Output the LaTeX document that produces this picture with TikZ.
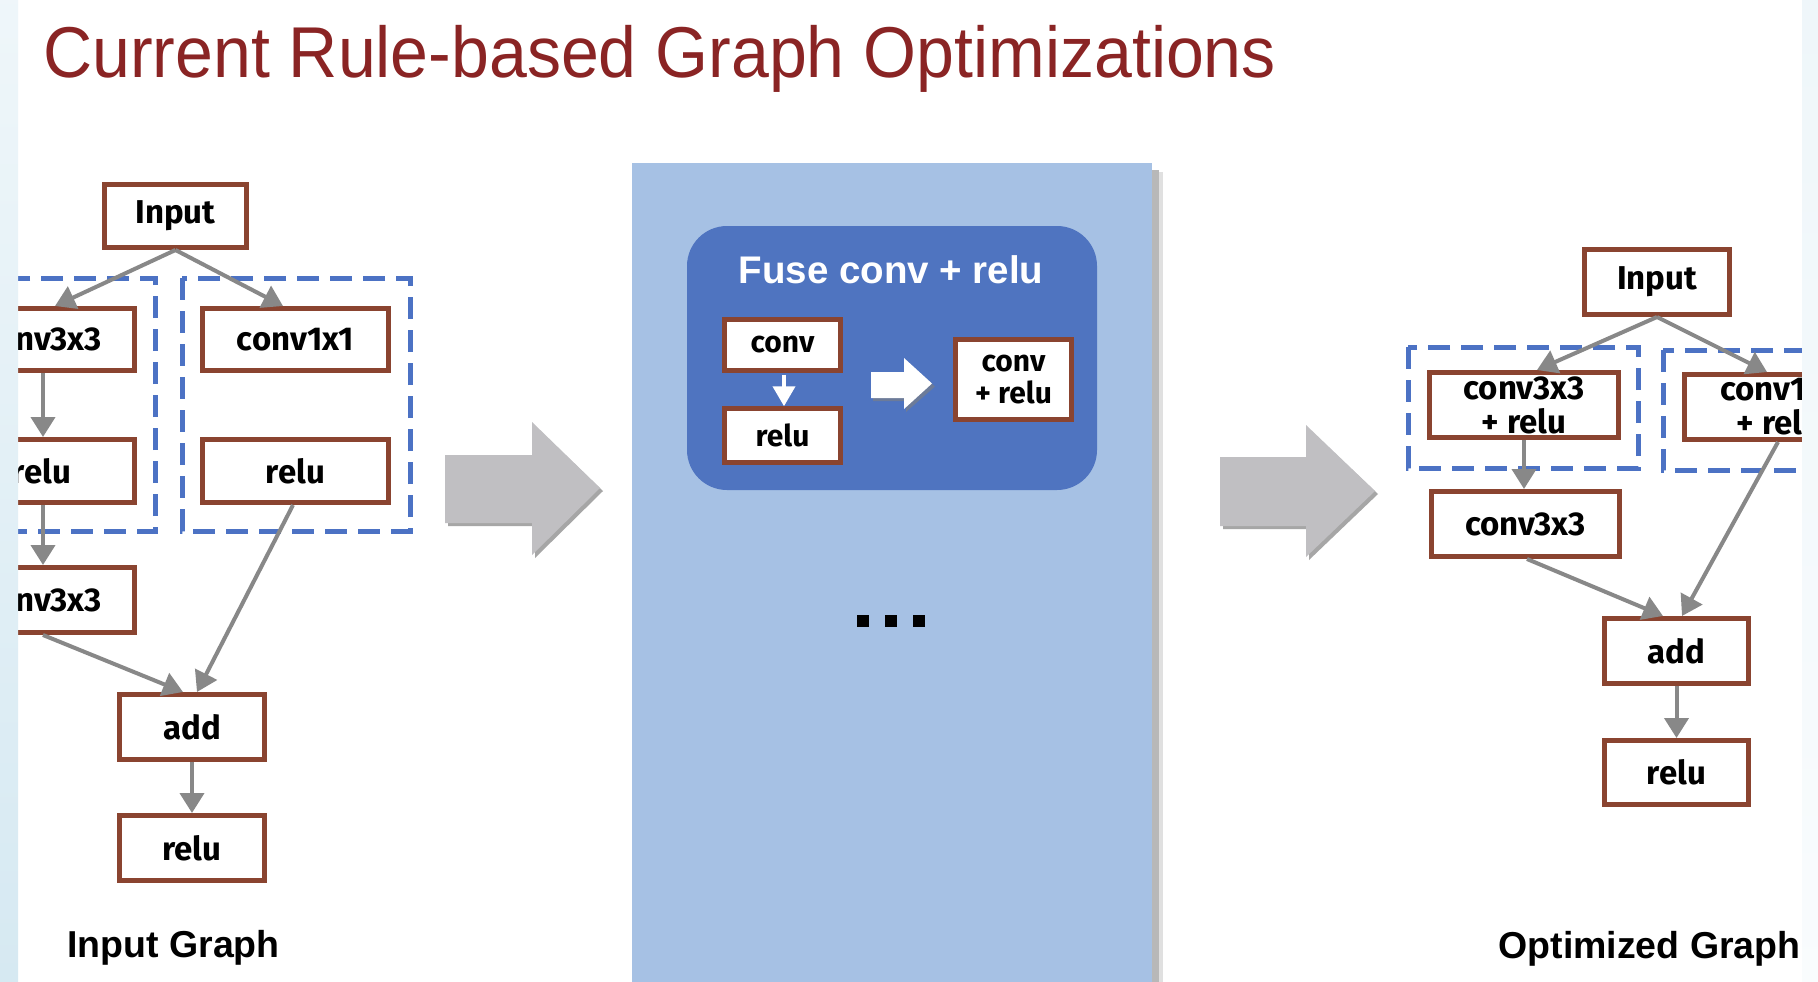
\documentclass[tikz,border=0pt]{standalone}
\usepackage{fontspec}
\setmainfont{Liberation Sans}
\newfontfamily\boxf{Fira Sans}
\usetikzlibrary{arrows.meta,calc}
\definecolor{brn}{RGB}{138,68,48}
\definecolor{dblue}{RGB}{76,114,196}
\definecolor{arrgray}{RGB}{136,136,136}
\definecolor{panelc}{RGB}{166,193,228}
\definecolor{rboxc}{RGB}{79,116,192}
\definecolor{bigarr}{RGB}{192,191,194}
\definecolor{titlec}{RGB}{138,36,36}
\definecolor{stripc}{RGB}{214,233,242}
\begin{document}
\begin{tikzpicture}[x=1pt,y=-1pt,
  gbox/.style={draw=brn, line width=5pt, fill=white, inner sep=0pt,
    font=\boxf\bfseries\fontsize{33}{34}\selectfont, align=center},
  sbox/.style={draw=brn, line width=4.5pt, fill=white, inner sep=0pt,
    font=\boxf\bfseries\fontsize{30}{32}\selectfont, align=center},
  arr/.style={draw=arrgray, line width=4pt, -{Triangle[width=24pt,length=20pt]}},
  dbox/.style={draw=dblue, line width=5pt, dash pattern=on 22pt off 11pt},
  lbl/.style={font=\bfseries\fontsize{37.5}{42}\selectfont, anchor=base, inner sep=0pt}]
\useasboundingbox (0,0) rectangle (1818,982);
\clip (0,0) rectangle (1818,982);
\fill[white] (0,0) rectangle (1818,982);

% title
\node[anchor=base west, inner sep=0pt, text=titlec, font=\fontsize{72}{80}\selectfont]
  (title) at (43,77.5) {\scalebox{0.945}[1]{Current Rule-based Graph Optimizations}};

% ---------- left graph ----------
\draw[dbox] (-72,278) rectangle (155,531);
\draw[dbox] (182,278) rectangle (410,531);
\node[gbox, minimum width=142pt, minimum height=63pt] (in1) at (175.5,216) {Input};
\node[gbox, minimum width=186pt, minimum height=62pt] (c3a) at (41.5,339.5) {conv3x3};
\node[gbox, minimum width=186pt, minimum height=63pt] (r1a) at (41.5,471) {relu};
\node[gbox, minimum width=186pt, minimum height=62pt] (c1) at (295.5,339.5) {conv1x1};
\node[gbox, minimum width=186pt, minimum height=63pt] (r1b) at (295.5,471) {relu};
\node[gbox, minimum width=186pt, minimum height=65pt] (c3b) at (41.5,600) {conv3x3};
\node[gbox, minimum width=145pt, minimum height=65pt] (add1) at (192,727) {add};
\node[gbox, minimum width=145pt, minimum height=65pt] (relu1) at (192,848) {relu};
\draw[arr] (in1.south) -- ($(c3a.north)+(13.5,0)$);
\draw[arr] (in1.south) -- ($(c1.north)+(-12.5,0)$);
\draw[arr] ($(c3a.south)+(1.5,0)$) -- ($(r1a.north)+(1.5,0)$);
\draw[arr] ($(r1a.south)+(1.5,0)$) -- ($(c3b.north)+(1.5,0)$);
\draw[arr] ($(c3b.south)+(1.5,0)$) -- ($(add1.north)+(-9,0)$);
\draw[arr] ($(r1b.south)+(-2.5,0)$) -- ($(add1.north)+(5,0)$);
\draw[arr] (add1.south) -- (relu1.north);
\node[lbl] (lg) at (173.5,957) {Input Graph};

% ---------- gray arrows ----------
\fill[black!35] (448,459) -- (535,459) -- (535,426) -- (603,491) -- (535,558) -- (535,526) -- (448,526) -- cycle;
\fill[bigarr] (445,455) -- (532,455) -- (532,422) -- (600,488) -- (532,555) -- (532,523) -- (445,523) -- cycle;
\fill[black!35] (1223,461) -- (1309,461) -- (1309,429) -- (1378,494) -- (1309,560) -- (1309,529) -- (1223,529) -- cycle;
\fill[bigarr] (1220,457) -- (1306,457) -- (1306,425) -- (1375,491) -- (1306,557) -- (1306,526) -- (1220,526) -- cycle;

% ---------- middle panel ----------
\fill[black!12] (1150,172) rectangle (1163,990);
\fill[black!28] (1150,170) rectangle (1159,990);
\fill[panelc] (632,163) rectangle (1152,990);
\fill[rboxc, rounded corners=40pt] (687,226) rectangle (1097,490);
\node[anchor=base, inner sep=0pt, text=white, font=\bfseries\fontsize{38.5}{42}\selectfont]
  (fuse) at (891,283) {Fuse conv + relu};
\node[sbox, minimum width=116pt, minimum height=51pt] (sconv) at (782.5,345) {conv};
\node[sbox, minimum width=116pt, minimum height=54pt] (srelu) at (782.5,435.5) {relu};
\node[sbox, minimum width=116pt, minimum height=80pt] (scr) at (1013.5,379.5) {conv\\+ relu};
\draw[white, line width=4pt, -{Triangle[width=22pt,length=20pt]}] ($(sconv.south)+(1.5,2)$) -- ($(srelu.north)+(1.5,0)$);
\fill[black!50, opacity=0.6] (873,375) -- (906,375) -- (906,361) -- (935,386.5) -- (906,412) -- (906,401) -- (873,401) -- cycle;
\fill[white] (871,372) -- (904,372) -- (904,358) -- (932,383.5) -- (904,409) -- (904,398) -- (871,398) -- cycle;
\fill[black] (857,615) rectangle (869,627);
\fill[black] (885,615) rectangle (897,627);
\fill[black] (913,615) rectangle (925,627);

% ---------- right graph ----------
\draw[dbox] (1408,347) rectangle (1638,468);
\draw[dbox] (1663,350) rectangle (1895,470);
\node[gbox, minimum width=145pt, minimum height=65pt] (in2) at (1657,282) {Input};
\node[gbox, minimum width=189pt, minimum height=65pt] (cr1) at (1524,405) {conv3x3\\+ relu};
\node[gbox, minimum width=189pt, minimum height=65pt] (cr2) at (1779,407) {conv1x1\\+ relu};
\node[gbox, minimum width=188pt, minimum height=65pt] (c3r) at (1525.5,524) {conv3x3};
\node[gbox, minimum width=144pt, minimum height=65pt] (add2) at (1676.5,651) {add};
\node[gbox, minimum width=144pt, minimum height=64pt] (relu2) at (1676.5,772.5) {relu};
\draw[arr] (in2.south) -- ($(cr1.north)+(13,0)$);
\draw[arr] (in2.south) -- ($(cr2.north)+(-12,0)$);
\draw[arr] (cr1.south) -- (cr1.south |- c3r.north);
\draw[arr] ($(cr2.south)+(-1,0)$) -- ($(add2.north)+(5.5,0)$);
\draw[arr] ($(c3r.south)+(1.5,0)$) -- ($(add2.north)+(-13.5,0)$);
\draw[arr] (add2.south) -- (relu2.north);
\node[lbl] (og) at (1649.5,958) {Optimized Graph};

% ---------- side strips ----------
\shade[top color=white!60!stripc, bottom color=stripc] (0,0) rectangle (18,982);
\shade[top color=white!60!stripc, bottom color=white!85!stripc] (1802,0) rectangle (1818,982);
\end{tikzpicture}
\end{document}
